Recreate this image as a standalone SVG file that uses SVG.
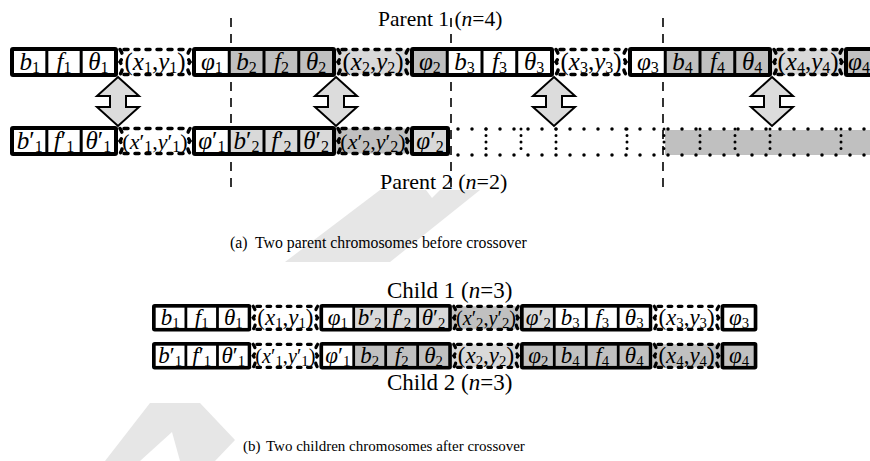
<svg xmlns="http://www.w3.org/2000/svg" width="870" height="461" viewBox="0 0 870 461">
<style>
.bk{fill:#000}
.w{fill:#fff}.g{fill:#c0c0c0}.l{fill:#d9d9d9}
.wm{fill:#e6e6e6}
.dl{fill:none;stroke:#000;stroke-width:3.5;stroke-linecap:round;stroke-dasharray:4 7}
.dt{fill:none;stroke:#000;stroke-width:3.5;stroke-linecap:round;stroke-dasharray:0 14}
.dv{fill:none;stroke:#000;stroke-width:3;stroke-linecap:round;stroke-dasharray:0 6.5}
.vd{fill:none;stroke:#000;stroke-width:1.6;stroke-dasharray:9 7}
.arr{fill:#dcdcdc;stroke:#000;stroke-width:2}
.c{font-family:"Liberation Serif","Times New Roman",serif;font-size:25px;text-anchor:middle;fill:#000}
.c2{font-size:22px}
.i{font-style:italic}
.s{font-size:16px;font-style:normal}
.lab{font-family:"Liberation Serif","Times New Roman",serif;font-size:22px;fill:#000}
.cap{font-family:"Liberation Serif","Times New Roman",serif;font-size:15.8px;fill:#000}
</style>
<defs>
<path id="brL" d="M0 0 q4.5 6.5 0 12.5 q4.5 6 0 12.5"/>
<path id="brR" d="M0 0 q-4.5 6.5 0 12.5 q-4.5 6 0 12.5"/>
</defs>

<g id="watermark">
<polygon class="wm" points="380,190 426,190 432,198 440,190 480,190 390,262 285,262"/>
<polygon class="wm" points="150,403 200,403 235,440 215,461 180,461 172,432 140,461 105,461"/>
</g>

<g id="guides">
<line class="vd" x1="231" y1="18" x2="231" y2="192"/>
<line class="vd" x1="451" y1="18" x2="451" y2="188"/>
<line class="vd" x1="663" y1="18" x2="663" y2="192"/>
</g>

<text class="lab" x="378" y="26" style="font-size:21.5px">Parent 1 (<tspan class="i">n</tspan>=4)</text>

<!-- Parent 1 -->
<g id="parent1">
<g id="p1-g1">
<rect class="bk" x="10" y="47" width="108" height="30" rx="3"/>
<rect class="w" x="14" y="51" width="31.33" height="22"/>
<rect class="w" x="48.33" y="51" width="31.33" height="22"/>
<rect class="w" x="82.67" y="51" width="31.33" height="22"/>
<text class="c" x="29.7" y="70"><tspan class="i">b</tspan><tspan class="s" dy="3">1</tspan></text>
<text class="c" x="64" y="70"><tspan class="i">f</tspan><tspan class="s" dy="3">1</tspan></text>
<text class="c" x="98.3" y="70"><tspan class="i">θ</tspan><tspan class="s" dy="3">1</tspan></text>
</g>
<g id="p1-xy1">
<rect class="w" x="118" y="49.5" width="74" height="25"/>
<path class="dl" d="M124 49.5H187M124 74.5H187"/>
<use href="#brL" class="dl" x="120" y="49.5"/><use href="#brR" class="dl" x="190" y="49.5"/>
<text class="c" x="155" y="70">(<tspan class="i">x</tspan><tspan class="s" dy="3">1</tspan><tspan dy="-3">,</tspan><tspan class="i">y</tspan><tspan class="s" dy="3">1</tspan><tspan dy="-3">)</tspan></text>
</g>
<g id="p1-g2">
<rect class="bk" x="192" y="47" width="144" height="30" rx="3"/>
<rect class="w" x="196" y="51" width="31.75" height="22"/>
<rect class="g" x="230.75" y="51" width="31.75" height="22"/>
<rect class="g" x="265.5" y="51" width="31.75" height="22"/>
<rect class="g" x="300.25" y="51" width="31.75" height="22"/>
<text class="c" x="211.9" y="70"><tspan class="i">φ</tspan><tspan class="s" dy="3">1</tspan></text>
<text class="c" x="246.6" y="70"><tspan class="i">b</tspan><tspan class="s" dy="3">2</tspan></text>
<text class="c" x="281.4" y="70"><tspan class="i">f</tspan><tspan class="s" dy="3">2</tspan></text>
<text class="c" x="316.1" y="70"><tspan class="i">θ</tspan><tspan class="s" dy="3">2</tspan></text>
</g>
<g id="p1-xy2">
<rect class="l" x="336" y="49.5" width="74" height="25"/>
<path class="dl" d="M342 49.5H405M342 74.5H405"/>
<use href="#brL" class="dl" x="338" y="49.5"/><use href="#brR" class="dl" x="408" y="49.5"/>
<text class="c" x="373" y="70">(<tspan class="i">x</tspan><tspan class="s" dy="3">2</tspan><tspan dy="-3">,</tspan><tspan class="i">y</tspan><tspan class="s" dy="3">2</tspan><tspan dy="-3">)</tspan></text>
</g>
<g id="p1-g3">
<rect class="bk" x="410" y="47" width="144" height="30" rx="3"/>
<rect class="g" x="414" y="51" width="31.75" height="22"/>
<rect class="w" x="448.75" y="51" width="31.75" height="22"/>
<rect class="w" x="483.5" y="51" width="31.75" height="22"/>
<rect class="w" x="518.25" y="51" width="31.75" height="22"/>
<text class="c" x="429.9" y="70"><tspan class="i">φ</tspan><tspan class="s" dy="3">2</tspan></text>
<text class="c" x="464.6" y="70"><tspan class="i">b</tspan><tspan class="s" dy="3">3</tspan></text>
<text class="c" x="499.4" y="70"><tspan class="i">f</tspan><tspan class="s" dy="3">3</tspan></text>
<text class="c" x="534.1" y="70"><tspan class="i">θ</tspan><tspan class="s" dy="3">3</tspan></text>
</g>
<g id="p1-xy3">
<rect class="w" x="554" y="49.5" width="74" height="25"/>
<path class="dl" d="M560 49.5H623M560 74.5H623"/>
<use href="#brL" class="dl" x="556" y="49.5"/><use href="#brR" class="dl" x="626" y="49.5"/>
<text class="c" x="591" y="70">(<tspan class="i">x</tspan><tspan class="s" dy="3">3</tspan><tspan dy="-3">,</tspan><tspan class="i">y</tspan><tspan class="s" dy="3">3</tspan><tspan dy="-3">)</tspan></text>
</g>
<g id="p1-g4">
<rect class="bk" x="628" y="47" width="144" height="30" rx="3"/>
<rect class="w" x="632" y="51" width="31.75" height="22"/>
<rect class="g" x="666.75" y="51" width="31.75" height="22"/>
<rect class="g" x="701.5" y="51" width="31.75" height="22"/>
<rect class="g" x="736.25" y="51" width="31.75" height="22"/>
<text class="c" x="647.9" y="70"><tspan class="i">φ</tspan><tspan class="s" dy="3">3</tspan></text>
<text class="c" x="682.6" y="70"><tspan class="i">b</tspan><tspan class="s" dy="3">4</tspan></text>
<text class="c" x="717.4" y="70"><tspan class="i">f</tspan><tspan class="s" dy="3">4</tspan></text>
<text class="c" x="752.1" y="70"><tspan class="i">θ</tspan><tspan class="s" dy="3">4</tspan></text>
</g>
<g id="p1-xy4">
<rect class="l" x="772" y="49.5" width="72" height="25"/>
<path class="dl" d="M778 49.5H839M778 74.5H839"/>
<use href="#brL" class="dl" x="774" y="49.5"/><use href="#brR" class="dl" x="842" y="49.5"/>
<text class="c" x="808" y="70">(<tspan class="i">x</tspan><tspan class="s" dy="3">4</tspan><tspan dy="-3">,</tspan><tspan class="i">y</tspan><tspan class="s" dy="3">4</tspan><tspan dy="-3">)</tspan></text>
</g>
<g id="p1-g5">
<rect class="bk" x="844" y="47" width="40" height="30" rx="3"/>
<rect class="g" x="848" y="51" width="32" height="22"/>
<text class="c" x="859" y="70"><tspan class="i">φ</tspan><tspan class="s" dy="3">4</tspan></text>
</g>
</g>

<!-- Parent 2 -->
<g id="parent2">
<g id="p2-g1">
<rect class="bk" x="10" y="126" width="108" height="30" rx="3"/>
<rect class="w" x="14" y="130" width="31.33" height="22"/>
<rect class="w" x="48.33" y="130" width="31.33" height="22"/>
<rect class="w" x="82.67" y="130" width="31.33" height="22"/>
<text class="c" x="29.7" y="149"><tspan class="i">b</tspan>′<tspan class="s" dy="3">1</tspan></text>
<text class="c" x="64" y="149"><tspan class="i">f</tspan>′<tspan class="s" dy="3">1</tspan></text>
<text class="c" x="98.3" y="149"><tspan class="i">θ</tspan>′<tspan class="s" dy="3">1</tspan></text>
</g>
<g id="p2-xy1">
<rect class="w" x="118" y="128.5" width="74" height="25"/>
<path class="dl" d="M124 128.5H187M124 153.5H187"/>
<use href="#brL" class="dl" x="120" y="128.5"/><use href="#brR" class="dl" x="190" y="128.5"/>
<text class="c c2" x="155" y="149">(<tspan class="i">x</tspan>′<tspan class="s" dy="3">1</tspan><tspan dy="-3">,</tspan><tspan class="i">y</tspan>′<tspan class="s" dy="3">1</tspan><tspan dy="-3">)</tspan></text>
</g>
<g id="p2-g2">
<rect class="bk" x="192" y="126" width="144" height="30" rx="3"/>
<rect class="w" x="196" y="130" width="31.75" height="22"/>
<rect class="l" x="230.75" y="130" width="31.75" height="22"/>
<rect class="l" x="265.5" y="130" width="31.75" height="22"/>
<rect class="l" x="300.25" y="130" width="31.75" height="22"/>
<text class="c" x="211.9" y="149"><tspan class="i">φ</tspan>′<tspan class="s" dy="3">1</tspan></text>
<text class="c" x="246.6" y="149"><tspan class="i">b</tspan>′<tspan class="s" dy="3">2</tspan></text>
<text class="c" x="281.4" y="149"><tspan class="i">f</tspan>′<tspan class="s" dy="3">2</tspan></text>
<text class="c" x="316.1" y="149"><tspan class="i">θ</tspan>′<tspan class="s" dy="3">2</tspan></text>
</g>
<g id="p2-xy2">
<rect class="g" x="336" y="128.5" width="74" height="25"/>
<path class="dl" d="M342 128.5H405M342 153.5H405"/>
<use href="#brL" class="dl" x="338" y="128.5"/><use href="#brR" class="dl" x="408" y="128.5"/>
<text class="c c2" x="373" y="149">(<tspan class="i">x</tspan>′<tspan class="s" dy="3">2</tspan><tspan dy="-3">,</tspan><tspan class="i">y</tspan>′<tspan class="s" dy="3">2</tspan><tspan dy="-3">)</tspan></text>
</g>
<g id="p2-g3">
<rect class="bk" x="410" y="126" width="40" height="30" rx="3"/>
<rect class="l" x="414" y="130" width="32" height="22"/>
<text class="c" x="430" y="149"><tspan class="i">φ</tspan>′<tspan class="s" dy="3">2</tspan></text>
</g>
<g id="p2-empty">
<rect class="g" x="665" y="130" width="205" height="25"/>
<path class="dt" d="M458 129H870M458 155H870"/>
<path class="dv" d="M486 129V155M521 129V155M556 129V155M627 129V155M664 129V155M700 129V155M735 129V155M770 129V155M841 129V155"/>
</g>
</g>

<text class="lab" x="380" y="189">Parent 2 (<tspan class="i">n</tspan>=2)</text>

<g id="connectors">
<path class="arr" d="M118 77L139 96H126V107H139L118 126L97 107H110V96H97Z"/>
<path class="arr" d="M336 77L357 96H344V107H357L336 126L315 107H328V96H315Z"/>
<path class="arr" d="M554 77L575 96H562V107H575L554 126L533 107H546V96H533Z"/>
<path class="arr" d="M772 77L793 96H780V107H793L772 126L751 107H764V96H751Z"/>
</g>

<text class="cap" x="230" y="248">(a)<tspan x="255">Two parent chromosomes before crossover</tspan></text>

<text class="lab" x="387" y="298" style="font-size:23px">Child 1 (<tspan class="i">n</tspan>=3)</text>

<!-- Child 1 -->
<g id="child1" transform="translate(142.8,260.76) scale(0.92)">
<g id="c1-g1">
<rect class="bk" x="10" y="47" width="108" height="30" rx="3"/>
<rect class="w" x="14" y="51" width="31.33" height="22"/>
<rect class="w" x="48.33" y="51" width="31.33" height="22"/>
<rect class="w" x="82.67" y="51" width="31.33" height="22"/>
<text class="c" x="29.7" y="70"><tspan class="i">b</tspan><tspan class="s" dy="3">1</tspan></text>
<text class="c" x="64" y="70"><tspan class="i">f</tspan><tspan class="s" dy="3">1</tspan></text>
<text class="c" x="98.3" y="70"><tspan class="i">θ</tspan><tspan class="s" dy="3">1</tspan></text>
</g>
<g id="c1-xy1">
<rect class="w" x="118" y="49.5" width="74" height="25"/>
<path class="dl" d="M124 49.5H187M124 74.5H187"/>
<use href="#brL" class="dl" x="120" y="49.5"/><use href="#brR" class="dl" x="190" y="49.5"/>
<text class="c" x="155" y="70">(<tspan class="i">x</tspan><tspan class="s" dy="3">1</tspan><tspan dy="-3">,</tspan><tspan class="i">y</tspan><tspan class="s" dy="3">1</tspan><tspan dy="-3">)</tspan></text>
</g>
<g id="c1-g2">
<rect class="bk" x="192" y="47" width="144" height="30" rx="3"/>
<rect class="w" x="196" y="51" width="31.75" height="22"/>
<rect class="l" x="230.75" y="51" width="31.75" height="22"/>
<rect class="l" x="265.5" y="51" width="31.75" height="22"/>
<rect class="l" x="300.25" y="51" width="31.75" height="22"/>
<text class="c" x="211.9" y="70"><tspan class="i">φ</tspan><tspan class="s" dy="3">1</tspan></text>
<text class="c" x="246.6" y="70"><tspan class="i">b</tspan>′<tspan class="s" dy="3">2</tspan></text>
<text class="c" x="281.4" y="70"><tspan class="i">f</tspan>′<tspan class="s" dy="3">2</tspan></text>
<text class="c" x="316.1" y="70"><tspan class="i">θ</tspan>′<tspan class="s" dy="3">2</tspan></text>
</g>
<g id="c1-xy2">
<rect class="g" x="336" y="49.5" width="74" height="25"/>
<path class="dl" d="M342 49.5H405M342 74.5H405"/>
<use href="#brL" class="dl" x="338" y="49.5"/><use href="#brR" class="dl" x="408" y="49.5"/>
<text class="c c2" x="373" y="70">(<tspan class="i">x</tspan>′<tspan class="s" dy="3">2</tspan><tspan dy="-3">,</tspan><tspan class="i">y</tspan>′<tspan class="s" dy="3">2</tspan><tspan dy="-3">)</tspan></text>
</g>
<g id="c1-g3">
<rect class="bk" x="410" y="47" width="144" height="30" rx="3"/>
<rect class="l" x="414" y="51" width="31.75" height="22"/>
<rect class="w" x="448.75" y="51" width="31.75" height="22"/>
<rect class="w" x="483.5" y="51" width="31.75" height="22"/>
<rect class="w" x="518.25" y="51" width="31.75" height="22"/>
<text class="c" x="429.9" y="70"><tspan class="i">φ</tspan>′<tspan class="s" dy="3">2</tspan></text>
<text class="c" x="464.6" y="70"><tspan class="i">b</tspan><tspan class="s" dy="3">3</tspan></text>
<text class="c" x="499.4" y="70"><tspan class="i">f</tspan><tspan class="s" dy="3">3</tspan></text>
<text class="c" x="534.1" y="70"><tspan class="i">θ</tspan><tspan class="s" dy="3">3</tspan></text>
</g>
<g id="c1-xy3">
<rect class="w" x="554" y="49.5" width="74" height="25"/>
<path class="dl" d="M560 49.5H623M560 74.5H623"/>
<use href="#brL" class="dl" x="556" y="49.5"/><use href="#brR" class="dl" x="626" y="49.5"/>
<text class="c" x="591" y="70">(<tspan class="i">x</tspan><tspan class="s" dy="3">3</tspan><tspan dy="-3">,</tspan><tspan class="i">y</tspan><tspan class="s" dy="3">3</tspan><tspan dy="-3">)</tspan></text>
</g>
<g id="c1-g4">
<rect class="bk" x="628" y="47" width="40" height="30" rx="3"/>
<rect class="w" x="632" y="51" width="32" height="22"/>
<text class="c" x="648" y="70"><tspan class="i">φ</tspan><tspan class="s" dy="3">3</tspan></text>
</g>
</g>

<!-- Child 2 -->
<g id="child2" transform="translate(142.8,298.76) scale(0.92)">
<g id="c2-g1">
<rect class="bk" x="10" y="47" width="108" height="30" rx="3"/>
<rect class="w" x="14" y="51" width="31.33" height="22"/>
<rect class="w" x="48.33" y="51" width="31.33" height="22"/>
<rect class="w" x="82.67" y="51" width="31.33" height="22"/>
<text class="c" x="29.7" y="70"><tspan class="i">b</tspan>′<tspan class="s" dy="3">1</tspan></text>
<text class="c" x="64" y="70"><tspan class="i">f</tspan>′<tspan class="s" dy="3">1</tspan></text>
<text class="c" x="98.3" y="70"><tspan class="i">θ</tspan>′<tspan class="s" dy="3">1</tspan></text>
</g>
<g id="c2-xy1">
<rect class="w" x="118" y="49.5" width="74" height="25"/>
<path class="dl" d="M124 49.5H187M124 74.5H187"/>
<use href="#brL" class="dl" x="120" y="49.5"/><use href="#brR" class="dl" x="190" y="49.5"/>
<text class="c c2" x="155" y="70">(<tspan class="i">x</tspan>′<tspan class="s" dy="3">1</tspan><tspan dy="-3">,</tspan><tspan class="i">y</tspan>′<tspan class="s" dy="3">1</tspan><tspan dy="-3">)</tspan></text>
</g>
<g id="c2-g2">
<rect class="bk" x="192" y="47" width="144" height="30" rx="3"/>
<rect class="w" x="196" y="51" width="31.75" height="22"/>
<rect class="g" x="230.75" y="51" width="31.75" height="22"/>
<rect class="g" x="265.5" y="51" width="31.75" height="22"/>
<rect class="g" x="300.25" y="51" width="31.75" height="22"/>
<text class="c" x="211.9" y="70"><tspan class="i">φ</tspan>′<tspan class="s" dy="3">1</tspan></text>
<text class="c" x="246.6" y="70"><tspan class="i">b</tspan><tspan class="s" dy="3">2</tspan></text>
<text class="c" x="281.4" y="70"><tspan class="i">f</tspan><tspan class="s" dy="3">2</tspan></text>
<text class="c" x="316.1" y="70"><tspan class="i">θ</tspan><tspan class="s" dy="3">2</tspan></text>
</g>
<g id="c2-xy2">
<rect class="l" x="336" y="49.5" width="74" height="25"/>
<path class="dl" d="M342 49.5H405M342 74.5H405"/>
<use href="#brL" class="dl" x="338" y="49.5"/><use href="#brR" class="dl" x="408" y="49.5"/>
<text class="c" x="373" y="70">(<tspan class="i">x</tspan><tspan class="s" dy="3">2</tspan><tspan dy="-3">,</tspan><tspan class="i">y</tspan><tspan class="s" dy="3">2</tspan><tspan dy="-3">)</tspan></text>
</g>
<g id="c2-g3">
<rect class="bk" x="410" y="47" width="144" height="30" rx="3"/>
<rect class="g" x="414" y="51" width="31.75" height="22"/>
<rect class="g" x="448.75" y="51" width="31.75" height="22"/>
<rect class="g" x="483.5" y="51" width="31.75" height="22"/>
<rect class="g" x="518.25" y="51" width="31.75" height="22"/>
<text class="c" x="429.9" y="70"><tspan class="i">φ</tspan><tspan class="s" dy="3">2</tspan></text>
<text class="c" x="464.6" y="70"><tspan class="i">b</tspan><tspan class="s" dy="3">4</tspan></text>
<text class="c" x="499.4" y="70"><tspan class="i">f</tspan><tspan class="s" dy="3">4</tspan></text>
<text class="c" x="534.1" y="70"><tspan class="i">θ</tspan><tspan class="s" dy="3">4</tspan></text>
</g>
<g id="c2-xy3">
<rect class="g" x="554" y="49.5" width="74" height="25"/>
<path class="dl" d="M560 49.5H623M560 74.5H623"/>
<use href="#brL" class="dl" x="556" y="49.5"/><use href="#brR" class="dl" x="626" y="49.5"/>
<text class="c" x="591" y="70">(<tspan class="i">x</tspan><tspan class="s" dy="3">4</tspan><tspan dy="-3">,</tspan><tspan class="i">y</tspan><tspan class="s" dy="3">4</tspan><tspan dy="-3">)</tspan></text>
</g>
<g id="c2-g4">
<rect class="bk" x="628" y="47" width="40" height="30" rx="3"/>
<rect class="g" x="632" y="51" width="32" height="22"/>
<text class="c" x="648" y="70"><tspan class="i">φ</tspan><tspan class="s" dy="3">4</tspan></text>
</g>
</g>

<text class="lab" x="387" y="390" style="font-size:23px">Child 2 (<tspan class="i">n</tspan>=3)</text>

<text class="cap" x="243" y="451" style="font-size:15px">(b)<tspan x="266">Two children chromosomes after crossover</tspan></text>
</svg>
